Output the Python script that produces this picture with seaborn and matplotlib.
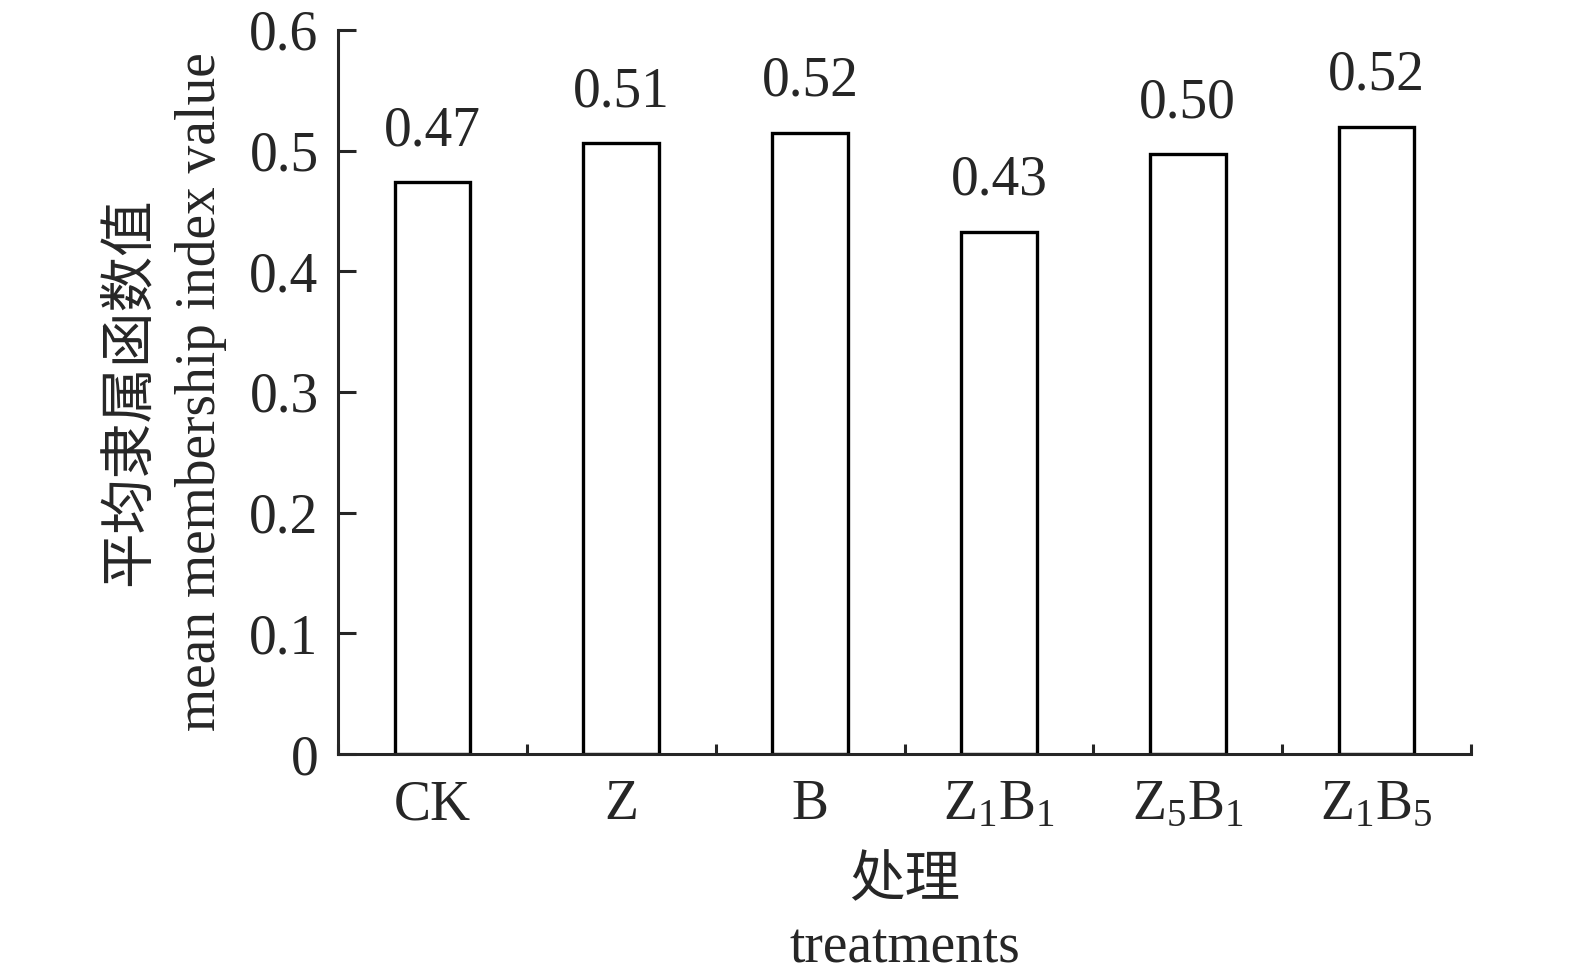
import matplotlib
matplotlib.use("Agg")
import matplotlib.pyplot as plt
import seaborn as sns
import pandas as pd

# data
treatments = ["CK", "Z", "B", "Z1B1", "Z5B1", "Z1B5"]
tick_labels = ["CK", "Z", "B",
               r"$\mathregular{Z_1B_1}$", r"$\mathregular{Z_5B_1}$", r"$\mathregular{Z_1B_5}$"]
mean_index = [0.474, 0.506, 0.515, 0.433, 0.497, 0.520]
value_labels = ["0.47", "0.51", "0.52", "0.43", "0.50", "0.52"]

df = pd.DataFrame({"treatment": treatments, "value": mean_index})

sns.set_style("ticks")
plt.rcParams["font.family"] = ["Liberation Serif", "Noto Sans CJK SC"]
plt.rcParams["mathtext.fontset"] = "custom"
plt.rcParams["mathtext.rm"] = "Liberation Serif"
plt.rcParams["axes.linewidth"] = 2.2

fig = plt.figure(figsize=(15.75, 9.8), dpi=100)
ax = fig.add_axes([0.2146, 0.2306, 0.934 - 0.2146, 0.9694 - 0.2306])

sns.barplot(data=df, x="treatment", y="value", color="white", saturation=1,
            edgecolor="black", linewidth=2.4, width=0.4, ax=ax)

ax.bar_label(ax.containers[0], labels=value_labels, padding=18, fontsize=40)

ax.set_xlim(-0.5, 5.5)
ax.set_ylim(0, 0.6)
ax.set_yticks([0, 0.1, 0.2, 0.3, 0.4, 0.5, 0.6])
ax.set_yticklabels(["0", "0.1", "0.2", "0.3", "0.4", "0.5", "0.6"])
ax.set_xticks(range(6))
ax.set_xticklabels(tick_labels)
ax.set_xticks([i - 0.5 for i in range(7)], minor=True)

ax.tick_params(axis="y", direction="in", length=13, width=2.2, labelsize=40, pad=14)
ax.tick_params(axis="x", which="major", length=0, labelsize=40, pad=18)
ax.tick_params(axis="x", which="minor", direction="in", length=7, width=2.2)

sns.despine(ax=ax)

ax.set_ylabel("平均隶属函数值\nmean membership index value", fontsize=40, linespacing=1.45, labelpad=16)
ax.set_xlabel("处理\ntreatments", fontsize=40, linespacing=1.35, labelpad=18)

fig.savefig("out.png", dpi=100)
